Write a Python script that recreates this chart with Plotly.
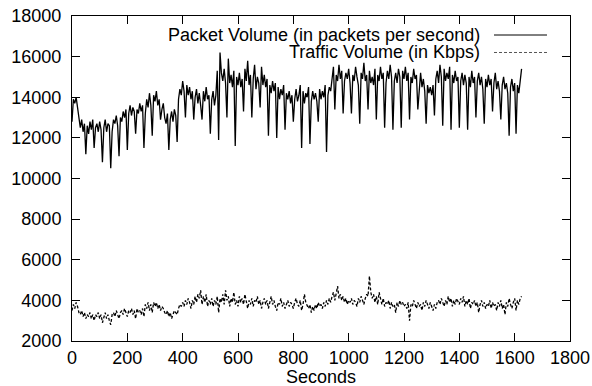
import plotly.graph_objects as go

STEP = 5  # seconds between samples

packet_volume = [
    12800, 13900, 13700, 14000, 13500, 13100, 12500, 12900, 12300, 12700, 11200, 12600, 12200, 12800, 12400, 12900, 11500, 12500, 12700, 12300,
    12800, 12400, 10800, 12500, 12900, 12300, 12700, 12600, 10500, 12300, 12900, 12700, 13100, 12600, 11100, 13000, 12800, 13300, 13000, 13400,
    11400, 13200, 13600, 13100, 13500, 13300, 12200, 13400, 13200, 13700, 13300, 13600, 11500, 13200, 13900, 13500, 14200, 13600, 12100, 14100,
    13800, 14300, 13600, 13900, 12900, 13400, 13700, 13000, 12700, 13200, 11400, 12900, 13300, 12800, 13400, 13100, 11800, 13900, 14400, 14100,
    14800, 14300, 13000, 14600, 14100, 14500, 13900, 14300, 12900, 14000, 14400, 13700, 14200, 13600, 12900, 14300, 13800, 14500, 13900, 14100,
    12200, 13900, 14300, 13600, 14100, 15300, 11900, 16200, 15200, 14800, 15400, 14700, 13000, 15900, 14700, 15100, 14500, 15300, 11600, 15000,
    14600, 15200, 14500, 14900, 13300, 15400, 14800, 15800, 14600, 15100, 13000, 14900, 15600, 14400, 15000, 14700, 13500, 15500, 14600, 15100,
    14500, 14900, 12100, 14600, 14200, 14800, 14300, 14700, 12000, 14500, 13900, 14400, 14100, 14600, 12400, 14200, 13900, 14300, 13700, 14100,
    12800, 13900, 14400, 13800, 14100, 14600, 11500, 14300, 13700, 14200, 14000, 14500, 11700, 13800, 14300, 13900, 14200, 13800, 12800, 14400,
    13900, 14300, 14000, 14600, 11300, 14100, 14500, 14300, 15000, 15500, 13400, 15100, 14800, 15600, 14900, 15300, 13200, 14800, 15200, 14900,
    15400, 14700, 13200, 15100, 14800, 15500, 15000, 14600, 12700, 15200, 14900, 15700, 14800, 15100, 13400, 15300, 14700, 15000, 14600, 15400,
    12900, 15100, 14800, 15500, 14900, 15200, 12500, 14700, 15300, 14900, 15600, 15000, 12400, 14800, 15200, 14700, 15400, 15000, 12500, 15300,
    14900, 15500, 14800, 15200, 12900, 15000, 14700, 15400, 14900, 15100, 13400, 14600, 15200, 14500, 14900, 14300, 12700, 14600, 14200, 14500,
    14100, 14600, 13100, 14900, 15300, 14700, 15600, 15000, 12600, 15400, 14800, 15200, 14900, 15500, 12400, 15100, 14700, 15300, 14800, 15000,
    12500, 14800, 15200, 14600, 15100, 14700, 12400, 15000, 14500, 15300, 14700, 15000, 13000, 14800, 15200, 14600, 15000, 14400, 12700, 14900,
    14500, 15100, 14600, 14900, 13300, 14700, 15200, 14400, 14800, 14300, 12900, 14600, 15000, 14400, 14700, 14200, 12100, 14500, 14900, 14300,
    14700, 12200, 14600, 14200, 14900, 15400,
]

traffic_volume = [
    3500, 3800, 3600, 3900, 3700, 3400, 3300, 3500, 3200, 3400, 3100, 3300, 3200, 3400, 3100, 3300, 3000, 3300, 3200, 3400,
    3100, 3300, 2900, 3200, 3400, 3100, 3300, 3000, 2800, 3300, 3400, 3200, 3500, 3300, 3100, 3400, 3500, 3300, 3600, 3400,
    3200, 3500, 3400, 3600, 3300, 3500, 3100, 3600, 3400, 3500, 3300, 3600, 3200, 3800, 3600, 3900, 3500, 3800, 3400, 3900,
    3700, 3900, 3600, 3800, 3500, 3700, 3600, 3400, 3300, 3500, 3200, 3400, 3100, 3300, 3500, 3400, 3300, 3600, 3800, 3700,
    3900, 3700, 4000, 3800, 4100, 3900, 3600, 4000, 3800, 4200, 3900, 4300, 4100, 4500, 3800, 4200, 3900, 4300, 3700, 4000,
    3800, 4100, 3700, 4000, 3800, 4200, 3400, 4100, 3900, 4300, 3800, 4500, 4000, 4200, 3700, 4100, 3900, 4400, 3800, 4000,
    3700, 4200, 3900, 4100, 3800, 4300, 3900, 3600, 4000, 3800, 4100, 3700, 4000, 3900, 4200, 3800, 4000, 3600, 3900, 4100,
    3800, 4000, 3600, 3900, 4200, 3800, 4000, 3700, 3500, 3900, 3800, 4100, 3700, 3900, 3600, 3800, 4000, 3700, 3900, 3800,
    3600, 3900, 4100, 3800, 3700, 4000, 3500, 3800, 4300, 3900, 3700, 3600, 3800, 3400, 3700, 3500, 3800, 3600, 3900, 3700,
    3800, 3600, 3900, 3700, 4000, 3800, 4100, 3900, 4200, 4400, 4000, 4300, 4700, 4100, 4300, 4000, 4200, 3900, 4100, 3800,
    4000, 3900, 4100, 3800, 4000, 3900, 3700, 4100, 3900, 4200, 4000, 3800, 4100, 4300, 4200, 5200, 4400, 4100, 4300, 3900,
    4200, 3800, 4400, 4000, 3800, 4100, 3700, 3900, 3800, 4000, 3600, 3900, 3700, 3800, 3400, 3900, 3700, 4000, 3800, 3900,
    3700, 3800, 3600, 3900, 3000, 3800, 3700, 4000, 3800, 3600, 3900, 3700, 3800, 3500, 3900, 3700, 4000, 3800, 3600, 3900,
    3700, 3500, 3800, 3600, 3900, 4000, 3800, 4100, 3900, 3700, 4000, 3800, 4200, 3900, 4100, 3700, 4000, 3800, 4100, 3900,
    3800, 4100, 3900, 4200, 3700, 4000, 3800, 4100, 3600, 3900, 3800, 4000, 3700, 3900, 3400, 3800, 4000, 3700, 3900, 3600,
    3800, 3700, 4000, 3600, 3900, 3700, 3800, 3500, 3900, 3700, 4000, 3600, 3800, 3300, 3900, 3700, 4100, 3800, 3600, 3900,
    4100, 3500, 4000, 3800, 4100, 4200,
]

seconds = [i * STEP for i in range(len(packet_volume))]

x_ticks = [0, 200, 400, 600, 800, 1000, 1200, 1400, 1600, 1800]
y_ticks = [2000, 4000, 6000, 8000, 10000, 12000, 14000, 16000, 18000]

series_names = ["Packet Volume (in packets per second)", "Traffic Volume (in Kbps)"]
x_title = "Seconds"

FONT = "Liberation Sans, Arial, Helvetica, sans-serif"

fig = go.Figure()
fig.add_trace(go.Scatter(x=seconds, y=packet_volume, mode="lines",
                         line=dict(color="black", width=1.3), name=series_names[0],
                         showlegend=False))
fig.add_trace(go.Scatter(x=seconds, y=traffic_volume, mode="lines",
                         line=dict(color="black", width=1.3, dash="3px,2px"), name=series_names[1],
                         showlegend=False))

# gnuplot-style key: right-aligned text followed by line sample
key_rows = [(0.9415, "solid", "black"), (0.8877, "3px,2px", "#555555")]
for name, (yy, dash, col) in zip(series_names, key_rows):
    fig.add_annotation(xref="paper", yref="paper", x=0.8227, y=yy, text=name,
                       showarrow=False, xanchor="right", yanchor="middle",
                       font=dict(family=FONT, size=18, color="black"))
    fig.add_shape(type="line", xref="paper", yref="paper", x0=0.8474, x1=0.9538,
                  y0=yy, y1=yy, line=dict(color=col, width=1, dash=dash))

fig.add_annotation(xref="paper", yref="paper", x=0.5, y=-0.11, text=x_title,
                   showarrow=False, xanchor="center", yanchor="middle",
                   font=dict(family=FONT, size=18, color="black"))

axis_common = dict(showline=True, linecolor="black", linewidth=1, mirror="ticks",
                   ticks="inside", ticklen=8, tickcolor="black", showgrid=False,
                   zeroline=False, automargin=False, ticklabeloverflow="allow",
                   tickfont=dict(family=FONT, size=18, color="black"))

fig.update_xaxes(range=[0, 1800], tickvals=x_ticks, ticktext=[str(v) for v in x_ticks],
                 **axis_common)
fig.update_yaxes(range=[2000, 18000], tickvals=y_ticks, ticktext=[str(v) for v in y_ticks],
                 ticklabelstandoff=6, **axis_common)

fig.update_layout(width=592, height=386, margin=dict(l=72, r=22, t=16, b=45),
                  paper_bgcolor="white", plot_bgcolor="white",
                  font=dict(family=FONT, size=18, color="black"))

# remove the browser's default 8px body margin so the figure sits at the page origin
fig.write_html("out.html", config={"displayModeBar": False},
               post_script="document.body.style.margin='0';")
